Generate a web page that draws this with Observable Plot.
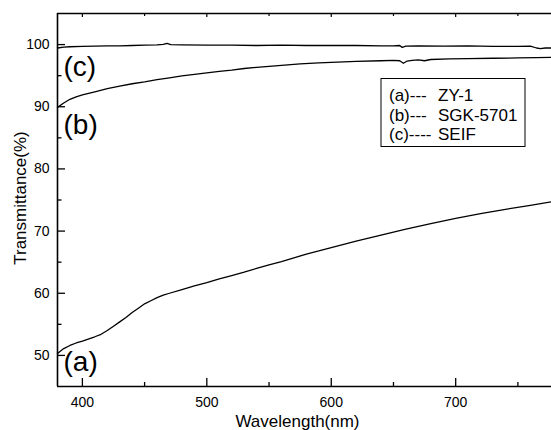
<!DOCTYPE html>
<html>
<head>
<meta charset="utf-8">
<script src="https://cdn.jsdelivr.net/npm/d3@7"></script>
<script src="https://cdn.jsdelivr.net/npm/@observablehq/plot@0.6"></script>
<style>
  body { margin: 0; background: #fff; }
  #chart svg { display: block; }
</style>
</head>
<body>
<div id="chart"></div>
<script>
// Transmittance spectra of three coatings
const seriesTags = ["(a)", "(b)", "(c)"];
const seriesNames = ["ZY-1", "SGK-5701", "SEIF"];
const legendLeads = ["(a)---", "(b)---", "(c)----"];

// (a) ZY-1
const wlA = [380, 385, 390, 395, 400, 410, 415, 420, 425, 430, 435, 440, 445, 450, 455, 460, 465, 470,
             480, 490, 500, 510, 520, 530, 540, 550, 560, 570, 580, 590, 600, 620, 640, 660, 680, 700,
             720, 740, 760, 777];
const tA = [50.3, 51.1, 51.6, 52.0, 52.3, 53.0, 53.4, 54.0, 54.7, 55.4, 56.1, 56.9, 57.6, 58.3, 58.8, 59.3, 59.7, 60.0,
            60.6, 61.2, 61.7, 62.3, 62.85, 63.4, 64.0, 64.55, 65.1, 65.7, 66.3, 66.8, 67.35, 68.4, 69.35, 70.3, 71.2, 72.05,
            72.8, 73.5, 74.15, 74.7];

// (b) SGK-5701
const wlB = [380, 385, 390, 395, 400, 410, 420, 430, 440, 450, 460, 470, 480, 490, 500, 510, 520, 530, 540, 550,
             560, 575, 590, 600, 620, 640, 650, 655, 658, 661, 665, 670, 675, 680, 695, 710, 730, 750, 765, 777];
const tB = [89.9, 90.6, 91.2, 91.6, 91.9, 92.4, 92.9, 93.3, 93.7, 94.0, 94.35, 94.65, 94.95, 95.2, 95.45, 95.7, 95.9, 96.15, 96.35, 96.5,
            96.65, 96.9, 97.05, 97.15, 97.3, 97.4, 97.45, 97.4, 97.0, 97.35, 97.45, 97.55, 97.4, 97.6, 97.7, 97.75, 97.8, 97.85, 97.9, 97.95];

// (c) SEIF
const wlC = [380, 385, 390, 400, 410, 420, 430, 440, 450, 460, 465, 468, 471, 480, 500, 520, 540, 560, 580, 600,
             620, 640, 650, 655, 657, 660, 670, 690, 710, 730, 750, 760, 765, 768, 772, 777];
const tC = [99.45, 99.6, 99.65, 99.7, 99.75, 99.8, 99.8, 99.85, 99.9, 99.95, 100.05, 100.2, 100.0, 99.95, 99.9, 99.9, 99.85, 99.9, 99.85, 99.85,
            99.85, 99.8, 99.8, 99.85, 99.55, 99.75, 99.8, 99.75, 99.8, 99.7, 99.7, 99.75, 99.45, 99.35, 99.45, 99.45];

// Axis ticks
const xTicks = [400, 500, 600, 700];
const xMinor = [450, 550, 650, 750];
const yTicks = [50, 60, 70, 80, 90, 100];
const yMinor = [55, 65, 75, 85, 95];

const xDomain = [380, 777];
const yDomain = [45, 105];

const curves = [[wlA, tA], [wlB, tB], [wlC, tC]];
const rows = curves.flatMap(([w, t], k) => w.map((x, i) => ({series: seriesNames[k], wl: x, t: t[i]})));

// Each curve's tag sits just below-right of the curve's first point
const tagOffsets = [17.7, 27, 28.2];
const tagMarks = curves.map(([w, t], k) =>
  Plot.text([{tag: seriesTags[k], wl: w[0], t: t[0]}], {
    x: "wl", y: "t", text: "tag", dx: 6, dy: tagOffsets[k],
    textAnchor: "start", lineAnchor: "bottom", fontSize: 28, fill: "#000"
  })
);

const W = 551, H = 430;
const mL = 57, mR = 0, mT = 13, mB = 44;
const plotW = W - mL - mR, plotH = H - mT - mB;
const font = "Liberation Sans, Arial, Helvetica, sans-serif";

const chart = Plot.plot({
  width: W,
  height: H,
  marginLeft: mL,
  marginRight: mR,
  marginTop: mT,
  marginBottom: mB,
  style: {fontFamily: font, background: "#fff", color: "#000"},
  x: {domain: xDomain},
  y: {domain: yDomain},
  marks: [
    // tick labels
    Plot.axisX({ticks: xTicks, tickSize: 0, tickPadding: 11, fontSize: 14, label: null}),
    Plot.axisY({ticks: yTicks, tickSize: 0, tickPadding: 8, fontSize: 14, label: null}),
    // inward ticks: bottom, top, left
    Plot.tickX(xTicks, {x: d => d, insetTop: plotH - 8, strokeWidth: 1.3}),
    Plot.tickX(xMinor, {x: d => d, insetTop: plotH - 4, strokeWidth: 1.3}),
    Plot.tickX(xTicks, {x: d => d, insetBottom: plotH - 4, strokeWidth: 1.2}),
    Plot.tickX(xMinor, {x: d => d, insetBottom: plotH - 3, strokeWidth: 1.2}),
    Plot.tickY(yTicks, {y: d => d, insetRight: plotW - 8, strokeWidth: 1.3}),
    Plot.tickY(yMinor, {y: d => d, insetRight: plotW - 4.5, strokeWidth: 1.3}),
    // frame lines
    Plot.ruleX([xDomain[0]], {strokeWidth: 1.6}),
    Plot.ruleY([yDomain[0]], {strokeWidth: 1.6}),
    Plot.ruleY([yDomain[1]], {strokeWidth: 1.4}),
    // spectra
    Plot.line(rows, {x: "wl", y: "t", z: "series", stroke: "#000", strokeWidth: 1.3, curve: "linear"}),
    // curve tags
    ...tagMarks,
    // axis titles
    Plot.text(["Wavelength(nm)"], {frameAnchor: "bottom", dx: -7, dy: 40.5, textAnchor: "middle", lineAnchor: "bottom", fontSize: 17, fill: "#000"}),
    Plot.text(["Transmittance(%)"], {frameAnchor: "left", dx: -32, dy: -2, rotate: -90, textAnchor: "middle", lineAnchor: "bottom", fontSize: 17, fill: "#000"})
  ]
});

// legend box
const lg = d3.select(chart).append("g")
  .attr("font-family", font).attr("font-size", 17).attr("fill", "#000").attr("text-anchor", "start");
lg.append("rect").attr("x", 381).attr("y", 78.5).attr("width", 144).attr("height", 68)
  .attr("fill", "#fff").attr("stroke", "#000").attr("stroke-width", 1);
legendLeads.forEach((lead, i) => {
  const by = 101 + i * 19.5;
  lg.append("text").attr("x", 389).attr("y", by).text(lead);
  lg.append("text").attr("x", 438).attr("y", by).text(seriesNames[i]);
});

document.getElementById("chart").appendChild(chart);
</script>
</body>
</html>
